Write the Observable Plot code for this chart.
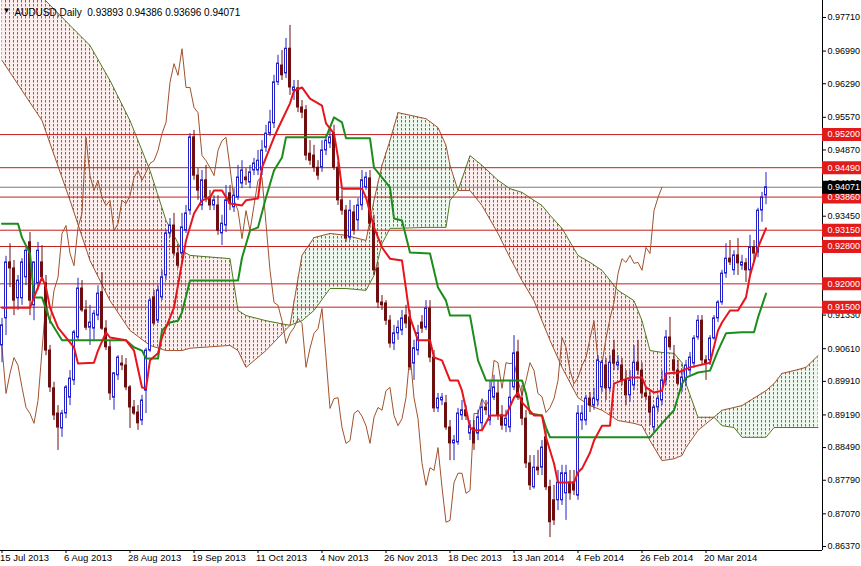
<!DOCTYPE html>
<html><head><meta charset="utf-8">
<script src="https://cdn.jsdelivr.net/npm/d3@7"></script>
<script src="https://cdn.jsdelivr.net/npm/@observablehq/plot@0.6"></script>
<style>body{margin:0;background:#fff}</style>
</head><body><div id="chart"></div>
<script>
// ---- Daily candles (bar 0 = 15 Jul 2013) ----
const open = [
.9068,.9126,.9246,.9233,.9169,.9169,.9214,.9289,.9154,.9201,
.9246,.9201,.9057,.8976,.8922,.8890,.8922,.8956,.8993,.9085,
.9190,.9143,.9106,.9104,.9132,.9182,.9104,.9064,.8956,.9004,
.9029,.9025,.8978,.8935,.8924,.8907,.8971,.9057,.9171,.9121,
.9171,.9218,.9308,.9325,.9265,.9265,.9314,.9357,.9514,.9432,
.9368,.9422,.9385,.9368,.9368,.9308,.9325,.9394,.9364,.9385,
.9415,.9428,.9417,.9443,.9443,.9443,.9492,.9522,.9544,.9632,
.9668,.9651,.9704,.9614,.9619,.9578,.9572,.9479,.9475,.9449,
.9449,.9486,.9501,.9522,.9449,.9379,.9357,.9299,.9353,.9336,
.9368,.9407,.9426,.9329,.9233,.9160,.9158,.9121,.9072,.9094,
.9100,.9132,.9128,.9029,.9057,.9117,.9106,.9147,.9042,.8933,
.8950,.8944,.8892,.8858,.8860,.8918,.8929,.8879,.8890,.8879,
.8901,.8935,.8907,.8956,.8965,.8918,.8896,.8892,.8978,.9053,
.8954,.8911,.8815,.8764,.8806,.8806,.8871,.8764,.8736,.8736,
.8736,.8751,.8774,.8774,.8746,.8907,.8907,.8954,.8939,.8950,
.8978,.9025,.8976,.9057,.9025,.9025,.8993,.8961,.8982,.9031,
.9014,.8965,.8958,.8892,.8935,.8950,.8993,.9085,.9036,.9014,
.8978,.8993,.9014,.9029,.9085,.9121,.9036,.9036,.9083,.9126,
.9160,.9222,.9254,.9229,.9261,.9239,.9244,.9229,.9278,.9267,
.9357,.93893];
const high = [
.9126,.9259,.9286,.9250,.9218,.9254,.9282,.9310,.9246,.9289,
.9282,.9218,.9068,.8989,.8939,.8929,.8982,.9014,.9100,.9212,
.9207,.9164,.9154,.9143,.9196,.9224,.9121,.9079,.9010,.9046,
.9046,.9040,.8982,.8950,.8939,.8961,.9062,.9169,.9186,.9196,
.9229,.9314,.9340,.9351,.9282,.9351,.9368,.9522,.9529,.9447,
.9443,.9454,.9400,.9389,.9389,.9347,.9411,.9411,.9404,.9454,
.9464,.9447,.9454,.9469,.9486,.9507,.9540,.9572,.9647,.9690,
.9700,.9726,.9754,.9636,.9636,.9593,.9582,.9507,.9497,.9464,
.9507,.9518,.9533,.9540,.9460,.9400,.9368,.9379,.9368,.9383,
.9443,.9439,.9443,.9347,.9246,.9175,.9164,.9132,.9111,.9121,
.9143,.9154,.9143,.9079,.9111,.9132,.9164,.9164,.9057,.8965,
.8965,.8961,.8907,.8875,.8933,.8950,.8939,.8907,.8907,.8929,
.8950,.8950,.8993,.9004,.8993,.8939,.8929,.8993,.9089,.9079,
.8982,.8929,.8832,.8832,.8843,.8864,.8886,.8779,.8768,.8800,
.8811,.8811,.8800,.8800,.8939,.8939,.8961,.8967,.8976,.9046,
.9036,.9040,.9046,.9079,.9046,.9040,.9014,.9014,.9068,.9079,
.9031,.8976,.8971,.8939,.8961,.9014,.9100,.9128,.9068,.9036,
.9014,.9036,.9053,.9089,.9132,.9132,.9046,.9089,.9132,.9164,
.9229,.9286,.9293,.9271,.9297,.9261,.9254,.9304,.9293,.9362,
.9396,.94386];
const low = [
.9031,.9089,.9192,.9132,.9143,.9154,.9196,.9132,.9121,.9186,
.9207,.9046,.8967,.8907,.8843,.8871,.8911,.8939,.8982,.9079,
.9139,.9100,.9068,.9079,.9121,.9100,.9057,.8950,.8929,.8993,
.9014,.8971,.8890,.8918,.8886,.8896,.8922,.9053,.9111,.9115,
.9164,.9207,.9299,.9259,.9233,.9254,.9308,.9347,.9422,.9379,
.9357,.9374,.9357,.9357,.9304,.9282,.9310,.9357,.9353,.9379,
.9404,.9411,.9404,.9432,.9432,.9432,.9482,.9516,.9533,.9625,
.9636,.9640,.9604,.9593,.9567,.9554,.9464,.9454,.9439,.9422,
.9439,.9475,.9490,.9443,.9368,.9347,.9289,.9293,.9304,.9314,
.9357,.9400,.9319,.9218,.9147,.9143,.9111,.9062,.9057,.9079,
.9089,.9104,.9014,.8993,.9046,.9094,.9100,.9031,.8924,.8924,
.8939,.8886,.8821,.8821,.8854,.8907,.8907,.8864,.8843,.8864,
.8886,.8918,.8896,.8950,.8907,.8886,.8881,.8881,.8971,.8950,
.8896,.8804,.8757,.8760,.8789,.8789,.8757,.8656,.8682,.8714,
.8725,.8693,.8736,.8746,.8736,.8886,.8896,.8924,.8929,.8939,
.8967,.8950,.8967,.9014,.9014,.8982,.8939,.8946,.8971,.9004,
.8954,.8950,.8896,.8881,.8924,.8939,.8982,.9057,.9004,.8982,
.8967,.8982,.9004,.9019,.9079,.9025,.8993,.9025,.9079,.9117,
.9154,.9212,.9239,.9218,.9218,.9229,.9203,.9218,.9246,.9256,
.9332,.93696];
const close = [
.9111,.9246,.9233,.9164,.9207,.9246,.9271,.9164,.9246,.9271,
.9214,.9057,.8978,.8918,.8892,.8922,.8978,.8997,.9096,.9190,
.9143,.9106,.9117,.9136,.9179,.9104,.9064,.8965,.9008,.9042,
.9025,.8978,.8935,.8922,.8901,.8950,.9057,.9164,.9115,.9186,
.9214,.9308,.9325,.9265,.9239,.9321,.9351,.9514,.9432,.9400,
.9422,.9385,.9368,.9379,.9314,.9329,.9379,.9372,.9389,.9428,
.9443,.9422,.9439,.9458,.9464,.9486,.9522,.9546,.9632,.9672,
.9647,.9704,.9621,.9621,.9578,.9567,.9475,.9464,.9449,.9432,
.9486,.9507,.9514,.9449,.9379,.9357,.9297,.9357,.9314,.9368,
.9422,.9428,.9329,.9229,.9160,.9154,.9121,.9072,.9094,.9106,
.9126,.9115,.9021,.9062,.9094,.9104,.9147,.9042,.8933,.8954,
.8956,.8892,.8858,.8864,.8922,.8929,.8916,.8896,.8858,.8914,
.8935,.8929,.8971,.8978,.8918,.8896,.8911,.8956,.9051,.8956,
.8911,.8815,.8768,.8806,.8800,.8849,.8764,.8689,.8693,.8774,
.8794,.8794,.8751,.8757,.8922,.8922,.8954,.8939,.8954,.9036,
.9031,.8976,.9031,.9029,.9031,.8993,.8961,.8993,.9031,.9014,
.8965,.8958,.8924,.8935,.8954,.8993,.9085,.9064,.9014,.8986,
.8999,.9025,.9042,.9083,.9121,.9036,.9029,.9083,.9126,.9160,
.9222,.9254,.9246,.9261,.9244,.9246,.9229,.9278,.9265,.9357,
.9385,.94071];

// ---- Ichimoku lines (breakpoints) ----
const tenkanBar = [0,7,8,10,11,12,14,18,19,23,24,26,27,31,33,35,36,37,39,40,43,46,48,50,52,53,55,57,60,61,64,65,68,69,72,73,75,77,80,81,83,84,85,90,91,93,95,97,100,102,104,107,108,110,112,114,115,117,118,120,122,126,128,129,130,133,135,136,138,139,143,144,145,147,148,150,152,153,155,157,160,161,163,165,166,169,172,177,179,180,182,184,186,187,189,191];
const tenkanVal = [.9149,.9149,.9171,.9214,.9192,.9149,.9106,.9064,.9029,.9031,.9057,.9096,.9085,.9079,.9057,.8978,.8976,.9036,.9051,.9085,.9149,.9293,.9351,.9379,.9385,.9400,.9400,.9372,.9368,.9379,.9383,.9449,.9514,.9533,.9587,.9614,.9621,.9597,.9582,.9544,.9522,.9471,.9404,.9404,.9385,.9321,.9278,.9254,.9250,.9128,.9079,.9079,.9042,.9036,.8993,.8993,.8971,.8892,.8886,.8886,.8918,.8918,.8956,.8967,.8946,.8918,.8918,.8871,.8815,.8774,.8774,.8796,.8804,.8838,.8864,.8896,.8896,.8986,.8993,.8999,.8999,.8978,.8967,.8971,.9008,.9010,.9021,.9031,.9100,.9117,.9143,.9143,.9171,.9218,.9278,.9319];
const kijunBar = [0,4,5,7,8,10,12,15,31,33,35,36,39,40,42,44,45,47,59,60,62,64,66,68,70,71,81,83,85,86,92,93,97,98,100,102,107,109,111,112,117,119,121,130,131,132,135,136,137,162,165,168,170,171,174,177,179,181,185,188,189,191];
const kijunVal = [.9329,.9329,.9299,.9265,.9171,.9171,.9121,.9079,.9079,.9064,.9057,.9040,.9040,.9100,.9117,.9121,.9139,.9207,.9207,.9256,.9314,.9321,.9385,.9443,.9471,.9514,.9514,.9557,.9546,.9512,.9512,.9449,.9407,.9340,.9336,.9267,.9265,.9192,.9164,.9132,.9132,.9036,.8993,.8993,.8965,.8922,.8918,.8892,.8871,.8871,.8901,.8929,.8986,.8999,.9010,.9014,.9057,.9094,.9096,.9096,.9128,.9179];
const cloudBar = [0,10,17,22,27,32,37,41,45,47,57,59,61,66,72,75,78,82,86,91,93,95,97,99,106,109,111,112,114,117,120,124,127,130,133,135,137,140,144,147,150,154,158,160,162,165,168,170,171,174,178,180,183,185,191,193,195,198,201,204];
const spanA = [.9679,.9550,.9379,.9250,.9164,.9100,.9068,.9057,.9057,.9062,.9068,.9057,.9021,.9057,.9111,.9261,.9299,.9308,.9304,.9293,.9379,.9454,.9507,.9567,.9554,.9535,.9497,.9454,.9400,.9400,.9368,.9308,.9256,.9207,.9164,.9121,.9079,.9021,.8956,.8939,.8929,.8907,.8901,.8896,.8864,.8821,.8825,.8832,.8849,.8886,.8914,.8929,.8935,.8939,.8971,.8986,.9008,.9014,.9021,.9046];
const spanB = [.9840,.9815,.9754,.9711,.9636,.9550,.9443,.9336,.9271,.9261,.9254,.9143,.9132,.9121,.9111,.9121,.9143,.9190,.9190,.9186,.9218,.9286,.9319,.9319,.9321,.9321,.9321,.9379,.9400,.9475,.9454,.9422,.9404,.9396,.9379,.9368,.9347,.9319,.9261,.9246,.9229,.9186,.9164,.9121,.9057,.9053,.9051,.9031,.8986,.8914,.8914,.8896,.8892,.8871,.8871,.8892,.8892,.8892,.8892,.8892];

// ---- Horizontal levels, axis ticks, labels ----
const levels = [0.95200, 0.94490, 0.93860, 0.93150, 0.92800, 0.92000, 0.91500];
const lastPrice = 0.94071;
const yTicks = [0.97710,0.96990,0.96290,0.95570,0.94870,0.94150,0.93450,0.91330,0.90610,0.89910,0.89190,0.88490,0.87790,0.87070,0.86370];
const dateBars = [0,16,32,48,64,80,96,112,128,144,160,176];
const dateLabels = ["15 Jul 2013","6 Aug 2013","28 Aug 2013","19 Sep 2013","11 Oct 2013","4 Nov 2013","26 Nov 2013","18 Dec 2013","13 Jan 2014","4 Feb 2014","26 Feb 2014","20 Mar 2014"];
const header = "AUDUSD,Daily  0.93893 0.94386 0.93696 0.94071";

// ---- build ----
const W = 861, H = 566, mR = 39, mB = 16;
const xDomain = [-0.375, 205.125];
const yDomain = [0.86284, 0.98074];
const labelSpan = mR * (xDomain[1] - xDomain[0]) / (W - mR);
const fmt = d3.format(".5f");

const bars = open.map((o, i) => ({i, o, h: high[i], l: low[i], c: close[i]}));
const cloud = cloudBar.map((b, k) => ({b, A: spanA[k], B: spanB[k]}));
const tenkan = tenkanBar.map((b, k) => ({b, v: tenkanVal[k]}));
const kijun = kijunBar.map((b, k) => ({b, v: kijunVal[k]}));
const chikou = close.map((v, i) => ({b: i - 26, v}));
const redY1 = d => d.B >= d.A ? d.A : NaN, redY2 = d => d.B >= d.A ? d.B : NaN;
const grnY1 = d => d.A >= d.B ? d.A : NaN, grnY2 = d => d.A >= d.B ? d.B : NaN;

const bull = "#2222c8", bear = "#6e0e0e";

const svg = Plot.plot({
  width: W, height: H,
  marginLeft: 0, marginRight: mR, marginTop: 0, marginBottom: mB,
  style: {fontFamily: "'Liberation Sans', Arial, sans-serif", fontSize: "9px", background: "#fff", color: "#000"},
  x: {domain: xDomain, ticks: dateBars, tickFormat: () => "", tickSize: 3, label: null},
  y: {domain: yDomain, axis: "right", ticks: yTicks, tickFormat: fmt, tickSize: 3, tickPadding: 2, label: null},
  marks: [
    // cloud: faint tint + dotted hatch
    Plot.areaY(cloud, {x: "b", y1: redY1, y2: redY2, fill: "#fcefee", clip: true}),
    Plot.areaY(cloud, {x: "b", y1: grnY1, y2: grnY2, fill: "#eef8ee", clip: true}),
    Plot.areaY(cloud, {x: "b", y1: redY1, y2: redY2, fill: "url(#dotsRed)", clip: true}),
    Plot.areaY(cloud, {x: "b", y1: grnY1, y2: grnY2, fill: "url(#dotsGreen)", clip: true}),
    Plot.line(cloud, {x: "b", y: "A", stroke: "#a0522d", strokeWidth: 1, clip: true}),
    Plot.line(cloud, {x: "b", y: "B", stroke: "#4f7a1f", strokeWidth: 1, clip: true}),
    // levels
    Plot.ruleY(levels, {stroke: "#c41e1e", strokeWidth: 1}),
    Plot.ruleY([lastPrice], {stroke: "#7a7a7a", strokeWidth: 1}),
    // chikou
    Plot.line(chikou, {x: "b", y: "v", stroke: "#a0522d", strokeWidth: 1, clip: true}),
    // candles
    Plot.ruleX(bars, {filter: d => d.c >= d.o, x: "i", y1: "l", y2: "h", stroke: bull}),
    Plot.ruleX(bars, {filter: d => d.c < d.o, x: "i", y1: "l", y2: "h", stroke: bear}),
    Plot.rect(bars, {filter: d => d.c >= d.o, x1: d => d.i - 0.25, x2: d => d.i + 0.25, y1: "o", y2: "c", fill: "#fff", stroke: bull, strokeWidth: 1}),
    Plot.rect(bars, {filter: d => d.c < d.o, x1: d => d.i - 0.25, x2: d => d.i + 0.25, y1: "o", y2: "c", fill: bear, stroke: bear, strokeWidth: 1}),
    // tenkan / kijun
    Plot.line(kijun, {x: "b", y: "v", stroke: "#1c8c1c", strokeWidth: 2}),
    Plot.line(tenkan, {x: "b", y: "v", stroke: "#e8141c", strokeWidth: 2}),
    // frame lines
    Plot.ruleX([xDomain[1]], {stroke: "#000"}),
    Plot.ruleY([yDomain[0]], {stroke: "#000"}),
    // price labels on axis
    Plot.ruleY(levels, {x1: xDomain[1], x2: xDomain[1] + labelSpan, stroke: "#e11b1b", strokeWidth: 13}),
    Plot.ruleY([lastPrice], {x1: xDomain[1], x2: xDomain[1] + labelSpan, stroke: "#000", strokeWidth: 13}),
    Plot.text(levels.concat([lastPrice]), {y: d => d, text: fmt, frameAnchor: "right", textAnchor: "start", dx: 5, fill: "#fff", fontSize: 9}),
    // date labels
    Plot.text(dateBars, {x: d => d, text: (d, i) => dateLabels[i], frameAnchor: "bottom", textAnchor: "start", dx: -2, dy: 10, fill: "#000", fontSize: 9.5}),
    // header
    Plot.text(["\u25BC"], {frameAnchor: "top-left", textAnchor: "start", dx: 2, dy: 7, fontSize: 8, fill: "#000"}),
    Plot.text([header], {frameAnchor: "top-left", textAnchor: "start", dx: 14, dy: 8, fill: "#000", fontSize: 10})
  ]
});

// dotted hatch patterns for the cloud (short vertical dashes, one column per bar)
const NS = "http://www.w3.org/2000/svg";
const defs = document.createElementNS(NS, "defs");
[["dotsRed", "#e03a36"], ["dotsGreen", "#22a02a"]].forEach(([id, col]) => {
  const p = document.createElementNS(NS, "pattern");
  p.setAttribute("id", id);
  p.setAttribute("patternUnits", "userSpaceOnUse");
  p.setAttribute("width", "4");
  p.setAttribute("height", "4");
  const r = document.createElementNS(NS, "path");
  r.setAttribute("d", "M1.5,0V2.5");
  r.setAttribute("stroke", col);
  r.setAttribute("stroke-width", "1");
  r.setAttribute("fill", "none");
  p.appendChild(r);
  defs.appendChild(p);
});
svg.insertBefore(defs, svg.firstChild);
document.getElementById("chart").appendChild(svg);
</script></body></html>
